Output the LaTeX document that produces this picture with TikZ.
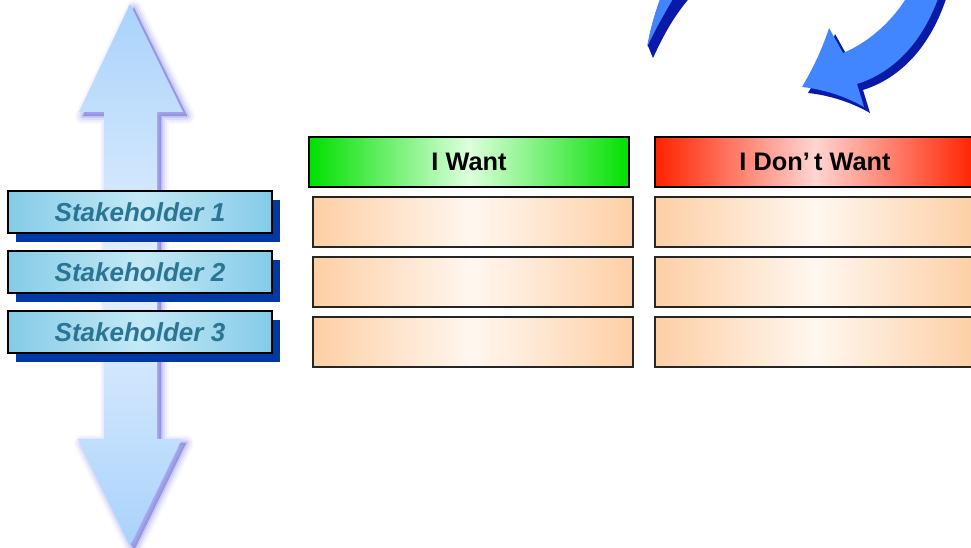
\documentclass[tikz,border=0pt]{standalone}
\usepackage{fontspec}
\setmainfont{Liberation Sans}
\usepackage{tikz}
\usetikzlibrary{positioning,shadows}
\definecolor{m_arrow}{HTML}{A9D2FB}
\definecolor{m_arrowlight}{HTML}{E6F1FF}
\definecolor{m_glow}{HTML}{5A5AD8}
\definecolor{m_sky}{HTML}{84CBE6}
\definecolor{m_skylight}{HTML}{C4E9F6}
\definecolor{m_teal}{HTML}{2B7594}
\definecolor{m_navy}{HTML}{0038A8}
\definecolor{m_green}{HTML}{00E000}
\definecolor{m_greenlight}{HTML}{DDFFDD}
\definecolor{m_red}{HTML}{FF2200}
\definecolor{m_redlight}{HTML}{FFD5D2}
\definecolor{m_peach}{HTML}{FDCFA5}
\definecolor{m_peachlight}{HTML}{FFF7EF}
\definecolor{m_dark}{HTML}{262626}
\definecolor{m_cyclight}{HTML}{4286FF}
\definecolor{m_cycdark}{HTML}{0A1AA8}

% outline of the up/down arrow and of the curved arrow head
\newcommand\updownpath{(130,4) -- (183,112) -- (157,112) -- (157,439) -- (182,439) -- (130,546)
    -- (78,439) -- (104,439) -- (104,112) -- (79,112) -- cycle}
\newcommand\cyclepath{(941,-10) .. controls (925,40) and (895,72) .. (857,84) -- (864,107)
    .. controls (845,96) and (822,89) .. (802,87) .. controls (812,70) and (822,50) .. (829,28)
    -- (843,53) .. controls (870,42) and (896,18) .. (911,-10) -- cycle}

\begin{document}
\begin{tikzpicture}[
    x=0.75pt,y=-0.75pt,
    node distance=6.5pt,
    stakeholder/.style={draw=black,line width=1.6pt,
        left color=m_sky,right color=m_sky,middle color=m_skylight,
        minimum width=198pt,minimum height=31.5pt,inner sep=0pt,
        font=\fontsize{19.5}{22}\selectfont\bfseries\itshape,text=m_teal,
        drop shadow={shadow xshift=6pt,shadow yshift=-6.5pt,fill=m_navy,opacity=1}},
    header/.style={draw=black,line width=1pt,minimum width=240pt,minimum height=37.5pt,
        inner sep=0pt,font=\fontsize{19}{22}\selectfont\bfseries},
    cell/.style={draw=m_dark,line width=1pt,
        left color=m_peach,right color=m_peach,middle color=m_peachlight,
        minimum width=240pt,minimum height=37.5pt,inner sep=0pt}]
    \useasboundingbox (0,0) rectangle (971,548);
    \clip (0,0) rectangle (971,548);

    % up/down arrow with soft glow
    \foreach \w/\o in {12/0.05,9/0.07,6/0.10,3/0.14,0.5/0.2}
        \filldraw[m_glow,opacity=\o,line width=\w pt,line join=round,shift={(4,4)}] \updownpath;
    \shade[top color=m_arrow,bottom color=m_arrow,middle color=m_arrowlight] \updownpath;

    % curved arrow
    \fill[m_cycdark] (653,58) .. controls (664,34) and (675,14) .. (693,-6) -- (662,-6)
        .. controls (655,14) and (650,30) .. (648,46) -- cycle;
    \fill[m_cyclight] (647,47) .. controls (650,30) and (655,12) .. (662,-6) -- (676,-6)
        .. controls (665,12) and (655,30) .. (647,47) -- cycle;
    \fill[m_cycdark,shift={(6,6)}] \cyclepath;
    \fill[m_cyclight] \cyclepath;

    % stakeholders
    \node[stakeholder] (sh1) at (140,212) {Stakeholder 1};
    \node[stakeholder,below=12pt of sh1] (sh2) {Stakeholder 2};
    \node[stakeholder,below=12pt of sh2] (sh3) {Stakeholder 3};

    % want / don't want columns
    \node[header,left color=m_green,right color=m_green,middle color=m_greenlight] (wanthead) at (469,162) {I Want};
    \node[cell,below=of wanthead,xshift=3pt] (want1) {};
    \node[cell,below=of want1] (want2) {};
    \node[cell,below=of want2] (want3) {};

    \node[header,left color=m_red,right color=m_red,middle color=m_redlight] (donthead) at (815,162) {I Don’\,t Want};
    \node[cell,below=of donthead] (dont1) {};
    \node[cell,below=of dont1] (dont2) {};
    \node[cell,below=of dont2] (dont3) {};
\end{tikzpicture}
\end{document}
